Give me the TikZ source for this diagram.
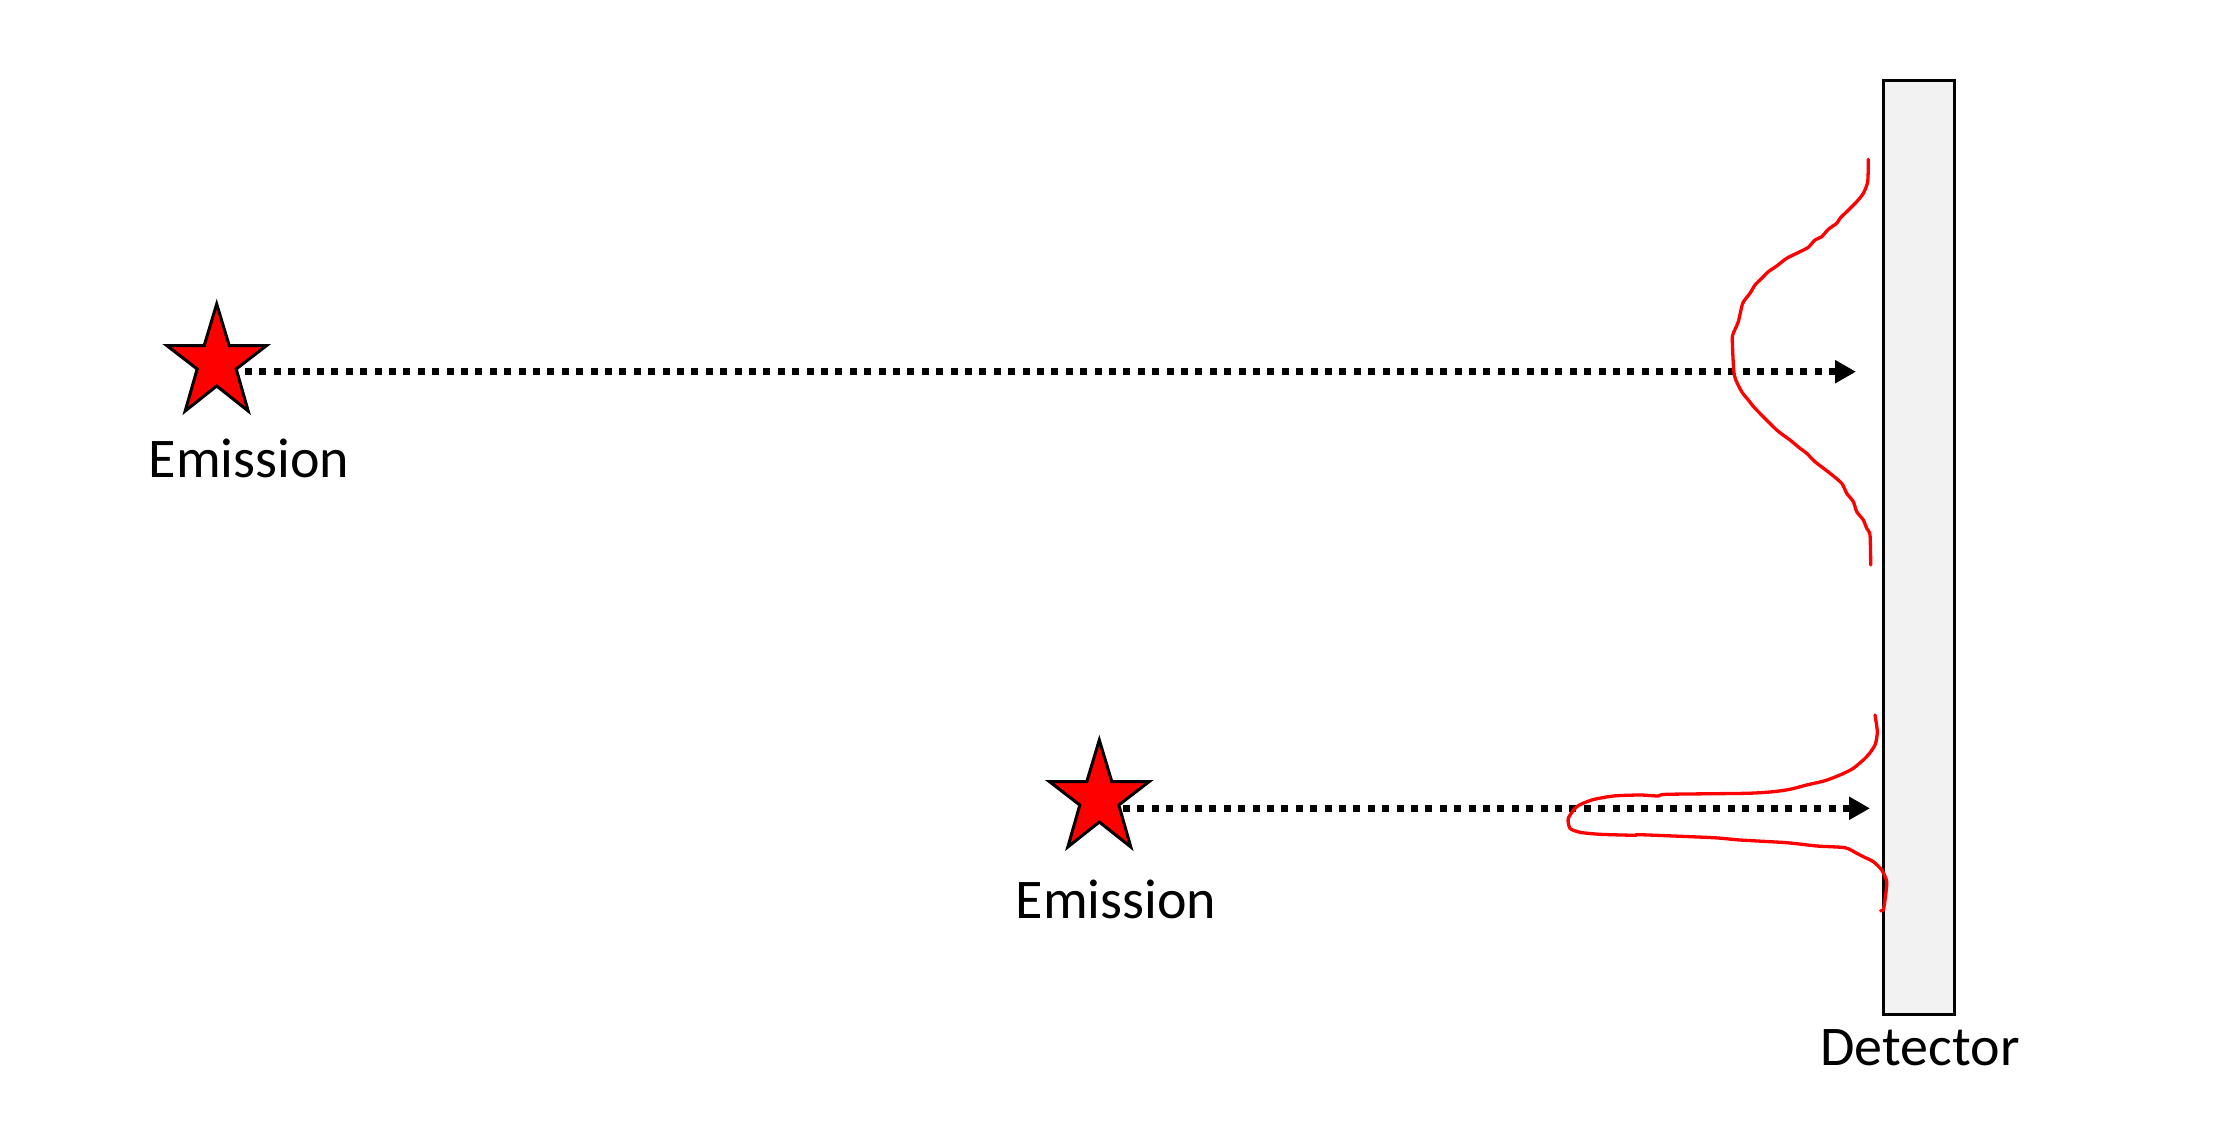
\documentclass[tikz,border=0pt]{standalone}
\usepackage{fontspec}
\setmainfont{Carlito}
\usetikzlibrary{arrows.meta}
\definecolor{detfill}{HTML}{F2F2F2}
\definecolor{pptred}{HTML}{FF0000}
\tikzset{
  starstyle/.style={draw=black, line width=3pt, fill=pptred, line join=miter},
  emstar/.pic={\path[starstyle] (0,-41.5) -- (12.5,0) -- (50,0) -- (19.5,23.5) -- (31.5,65.5) -- (0,40.5) -- (-31.5,65.5) -- (-19.5,23.5) -- (-50,0) -- (-12.5,0) -- cycle;},
  ray/.style={line width=7pt, dash pattern=on 7pt off 7.4pt, -{Triangle[length=21pt,width=22pt]}},
  lbl/.style={font=\fontsize{56}{62}\selectfont, anchor=base, inner sep=0pt},
  detbox/.style={draw=black, line width=3.3pt, fill=detfill, inner sep=0pt, minimum width=71pt, minimum height=934pt},
  profile/.style={draw=pptred, line width=3.3pt, line cap=round, line join=round}
}
\begin{document}
\begin{tikzpicture}[x=1pt, y=-1pt]
\useasboundingbox (0,0) rectangle (2220,1126);
% detector
\node[detbox] (det) at (1919,547.5) {};
\node[lbl] (detlbl) at (1920,1065) {Detector};
% stars
\pic at (216.7,345.5) {emstar};
\pic at (1099.3,781.5) {emstar};
\node[lbl] (e1) at (249,477) {Emission};
\node[lbl] (e2) at (1116,918) {Emission};
% rays
\coordinate (a1s) at (245,371.7);
\coordinate (a1e) at (1856,371.7);
\coordinate (a2s) at (1123,808.3);
\coordinate (a2e) at (1870,808.3);
\draw[ray] (a1s) -- (a1e);
\draw[ray] (a2s) -- (a2e);
% profiles
\draw[profile] plot[smooth, tension=0.4] coordinates {
(1868.3,159.3) (1867.7,181.7) (1863.3,193.3) (1856.7,201.7) (1846.7,211.7) (1840,218.3)
(1836.7,223.3) (1828.3,229.3) (1821.7,236.7) (1815,240) (1808.3,247.3) (1800,251.7)
(1786.7,258.3) (1776.7,266) (1768.3,271.7) (1761.7,278.3) (1755,285) (1750,293.3)
(1742.7,303.3) (1738.3,321.7) (1733.3,333.3) (1732.3,340) (1734.3,375) (1741.7,391.7)
(1748.3,400) (1755,408.3) (1776.7,430) (1790,440) (1800,448.3) (1806.7,453.3)
(1815,461.7) (1830,473.3) (1841.7,483.3) (1846.7,493.3) (1853.3,501.7) (1856.7,511.7)
(1863.3,520) (1866.7,528.3) (1870,535) (1870.7,565)};
\draw[profile] plot[smooth, tension=0.4] coordinates {
(1875,715) (1877.3,731.7) (1875,745) (1866.7,756.7) (1853.3,768.3) (1840,775)
(1825,780.7) (1806.7,785) (1790,789.3) (1773.3,791.7) (1746.7,793.3) (1666.7,794.3)
(1658.3,796) (1640,795) (1613.3,796) (1591.7,800) (1576.7,806.7) (1568.3,818.3)
(1570,828.3) (1580,832.3) (1600,834.3) (1635,835.3) (1640,834.7) (1713.3,837.7)
(1740,840) (1786.7,842.7) (1816.7,846) (1845,847.7) (1856.7,853.3) (1863.3,856.7)
(1873.3,861.7) (1881.7,870) (1886.7,881.7) (1885,900) (1883.3,910) (1880.7,910.7)};
\end{tikzpicture}
\end{document}
